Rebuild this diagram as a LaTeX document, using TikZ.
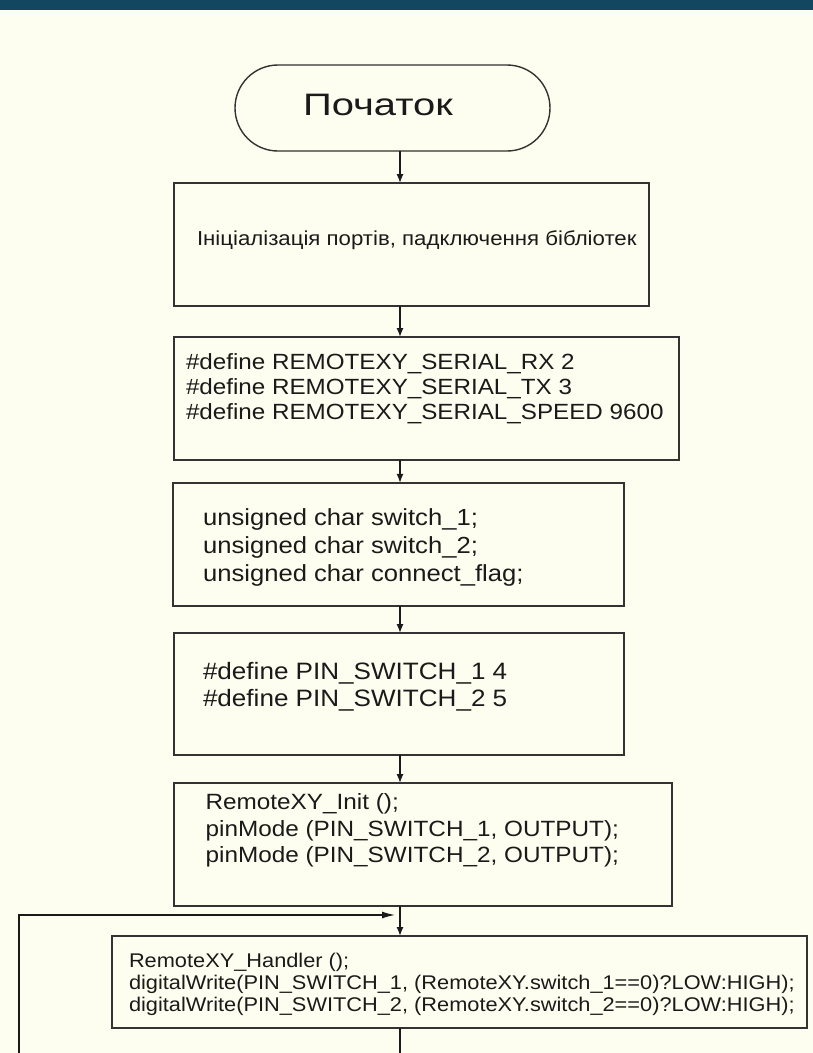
\documentclass[tikz,border=0pt]{standalone}
\usepackage{fontspec}
\setmainfont{Liberation Sans}[FakeStretch=1.1]
\newfontfamily\titlefont{Liberation Sans}[FakeStretch=1.29]
\usetikzlibrary{arrows.meta}
\definecolor{bgc}{HTML}{FEFEF0}
\definecolor{barc}{HTML}{12475F}
\definecolor{ink}{HTML}{1A1A1A}
\definecolor{edge}{HTML}{333333}
\newcommand\fsT{\titlefont\fontsize{31}{36}\selectfont}
\newcommand\fsA{\fontsize{20.2}{25}\selectfont}
\newcommand\fsB{\fontsize{22}{26}\selectfont}
\newcommand\fsC{\fontsize{23.3}{28}\selectfont}
\newcommand\fsD{\fontsize{23.7}{28}\selectfont}
\newcommand\fsE{\fontsize{22.1}{26}\selectfont}
\newcommand\fsF{\fontsize{19.8}{23}\selectfont}
\begin{document}
\begin{tikzpicture}[x=1pt,y=-1pt,
  box/.style={draw=edge, line width=1.4pt, inner sep=0pt, outer sep=0pt},
  txt/.style={anchor=base west, inner sep=0pt, outer sep=0pt, text=ink},
  wire/.style={draw=ink, line width=1.3pt},
  arr/.style={wire, -{Latex[length=9pt,width=7pt]}},
  arrh/.style={wire, -{Latex[length=13pt,width=7pt]}}]
\fill[bgc] (0,0) rectangle (813,1053);
\useasboundingbox (0,0) rectangle (813,1053);
\fill[barc] (0,0) rectangle (813,10);
% terminal
\node[box, minimum width=315pt, minimum height=86pt, rounded corners=43pt] (start) at (392.5,108) {};
\node[txt, font=\fsT] (t0) at (303,115) {Початок};
% boxes
\node[box, minimum width=475pt, minimum height=123pt] (b1) at (411.5,244.5) {};
\node[box, minimum width=505pt, minimum height=123pt] (b2) at (426.5,398.5) {};
\node[box, minimum width=451pt, minimum height=123pt] (b3) at (398.5,544.3) {};
\node[box, minimum width=450pt, minimum height=122pt] (b4) at (399,694) {};
\node[box, minimum width=498pt, minimum height=123pt] (b5) at (423,844.5) {};
\node[box, minimum width=695pt, minimum height=92pt] (b6) at (459.5,982) {};
% texts
\node[txt, font=\fsA] (t1) at (197,245) {Ініціалізація портів, падключення бібліотек};
\node[txt, font=\fsB] (t2a) at (186,369.3) {\#define REMOTEXY\_SERIAL\_RX 2};
\node[txt, font=\fsB] (t2b) at (186,394) {\#define REMOTEXY\_SERIAL\_TX 3};
\node[txt, font=\fsB] (t2c) at (186,419.3) {\#define REMOTEXY\_SERIAL\_SPEED 9600};
\node[txt, font=\fsC] (t3a) at (203,525) {unsigned char switch\_1;};
\node[txt, font=\fsC] (t3b) at (203,553) {unsigned char switch\_2;};
\node[txt, font=\fsC] (t3c) at (203,581) {unsigned char connect\_flag;};
\node[txt, font=\fsD] (t4a) at (203,679.3) {\#define PIN\_SWITCH\_1 4};
\node[txt, font=\fsD] (t4b) at (203,706) {\#define PIN\_SWITCH\_2 5};
\node[txt, font=\fsE] (t5a) at (205.6,809.5) {RemoteXY\_Init ();};
\node[txt, font=\fsE] (t5b) at (205.6,836) {pinMode (PIN\_SWITCH\_1, OUTPUT);};
\node[txt, font=\fsE] (t5c) at (205.6,862) {pinMode (PIN\_SWITCH\_2, OUTPUT);};
\node[txt, font=\fsF] (t6a) at (129,967.3) {RemoteXY\_Handler ();};
\node[txt, font=\fsF] (t6b) at (129,989.5) {digitalWrite(PIN\_SWITCH\_1, (RemoteXY.switch\_1==0)?LOW:HIGH);};
\node[txt, font=\fsF] (t6c) at (129,1011.5) {digitalWrite(PIN\_SWITCH\_2, (RemoteXY.switch\_2==0)?LOW:HIGH);};
% connectors
\coordinate (ax) at (400,0);
\coordinate (lb) at (19,1053);
\coordinate (jn) at (400,915);
\draw[arr] (start.south -| ax) -- (b1.north -| ax);
\draw[arr] (b1.south -| ax) -- (b2.north -| ax);
\draw[arr] (b2.south -| ax) -- (b3.north -| ax);
\draw[arr] (b3.south -| ax) -- (b4.north -| ax);
\draw[arr] (b4.south -| ax) -- (b5.north -| ax);
\draw[arr] (b5.south -| ax) -- (b6.north -| ax);
\draw[wire] (b6.south -| ax) -- (ax |- lb);
\draw[arrh, shorten >=5pt] (lb) |- (jn);
\end{tikzpicture}
\end{document}
